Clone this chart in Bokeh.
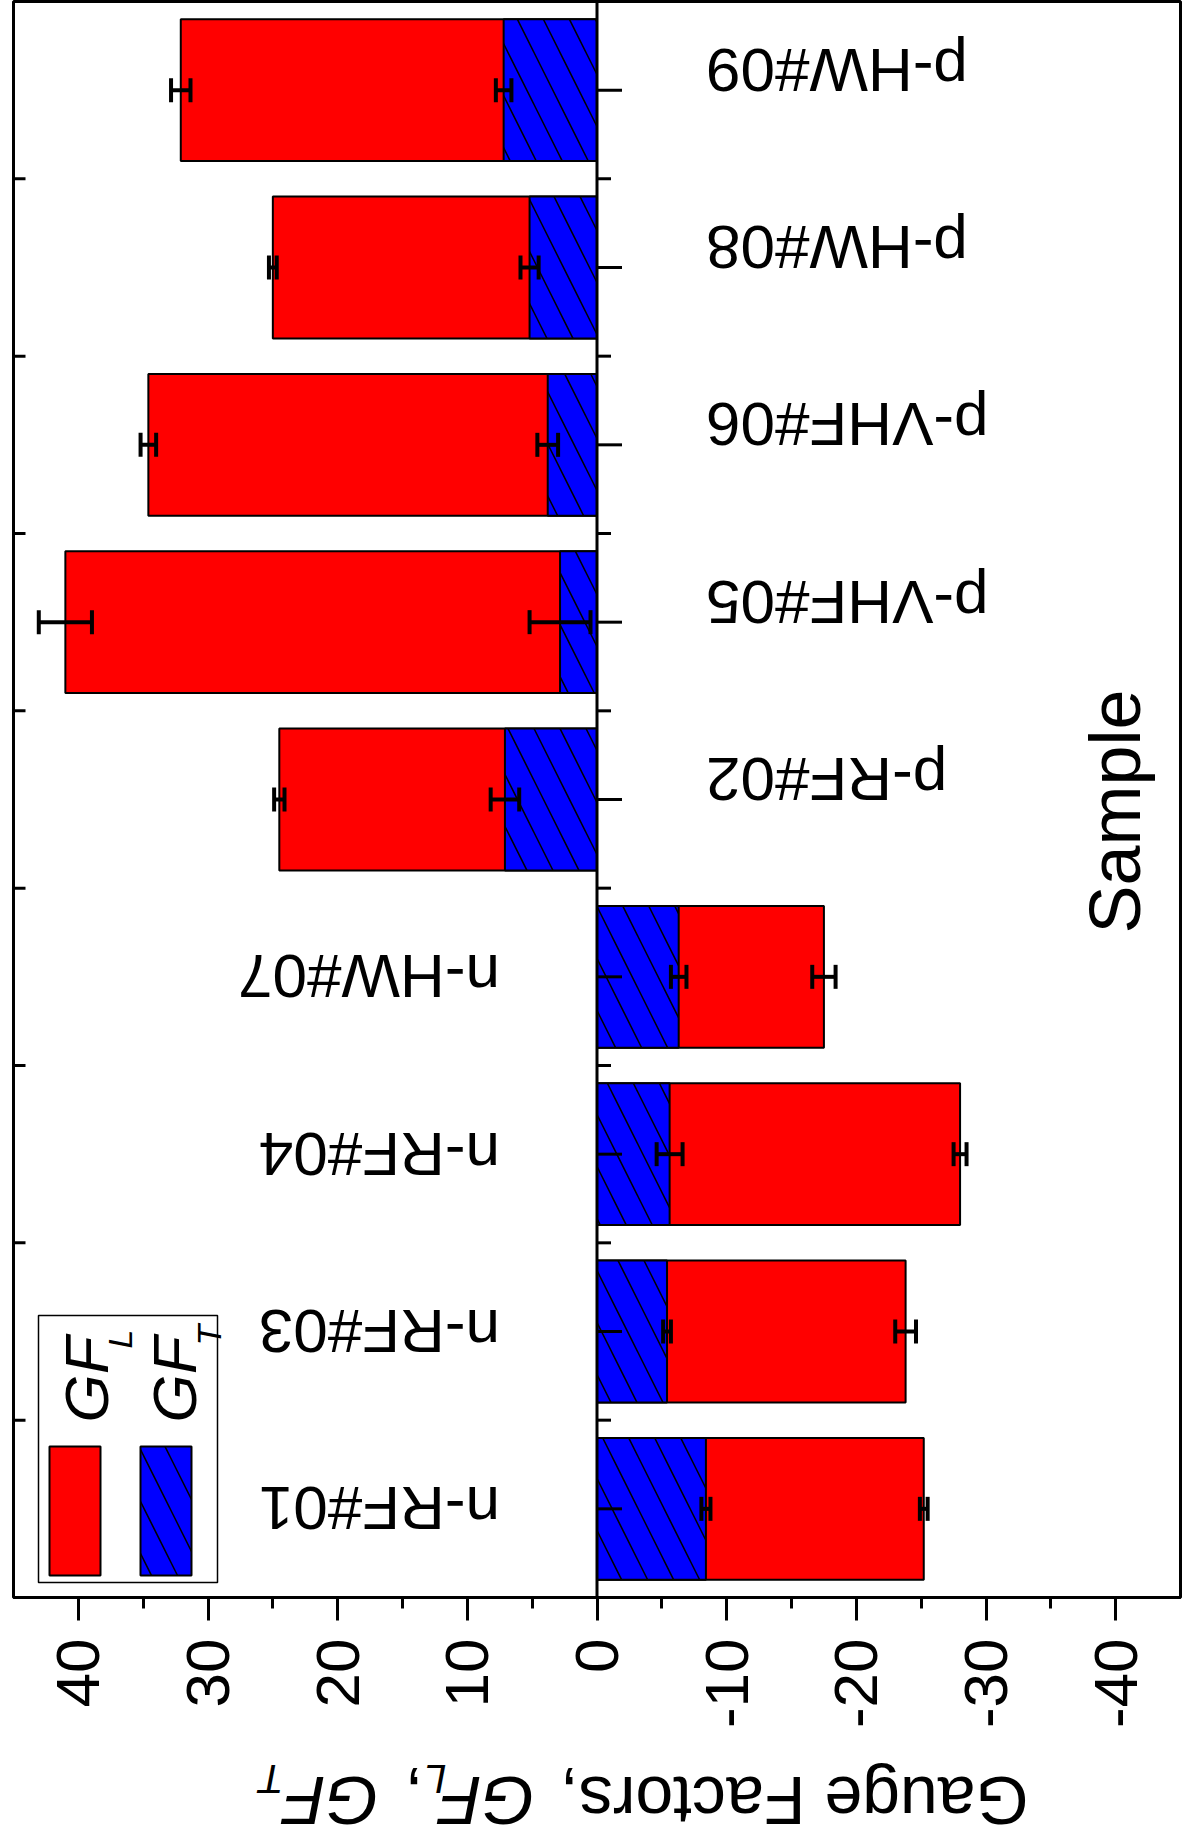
import math
from bokeh.plotting import figure
from bokeh.layouts import column
from bokeh.models import Range1d, FixedTicker, Whisker, TeeHead, ColumnDataSource, Label, BoxAnnotation, Span
from bokeh.core.properties import value
from bokeh.embed import file_html
from bokeh.resources import INLINE

# ---------------- data ----------------
samples = ["n-RF#01", "n-RF#03", "n-RF#04", "n-HW#07",
           "p-RF#02", "p-VHF#05", "p-VHF#06", "p-HW#08", "p-HW#09"]
gf_l = [-25.2, -23.8, -28.0, -17.5, 24.5, 41.0, 34.6, 25.0, 32.1]
gf_l_err = [0.3, 0.8, 0.5, 0.9, 0.4, 2.05, 0.6, 0.3, 0.75]
gf_t = [-8.4, -5.4, -5.6, -6.3, 7.1, 2.85, 3.8, 5.2, 7.2]
gf_t_err = [0.35, 0.3, 1.0, 0.6, 1.1, 2.35, 0.8, 0.7, 0.6]
value_ticks = [-40, -30, -20, -10, 0, 10, 20, 30, 40]

FONT = "Liberation Sans"

# ---------------- layout ----------------
W, H = 1185, 1848
H1 = 1736                      # main figure height, the rest holds the axis title
FR_L, FR_R, FR_T, FR_B = 13, 1180, 1, 1597
X0, X1 = 45, -45
Y0, Y1 = -0.5, len(samples) - 0.5


def xd(px):
    return X0 + (px - FR_L) / (FR_R - FR_L) * (X1 - X0)


def yd(py):
    return Y1 - (py - FR_T) / (FR_B - FR_T) * (Y1 - Y0)


ypos = list(range(len(samples)))
src = ColumnDataSource(dict(
    y=ypos, name=samples, gl=gf_l, gt=gf_t,
    gl_lo=[v - e for v, e in zip(gf_l, gf_l_err)],
    gl_hi=[v + e for v, e in zip(gf_l, gf_l_err)],
    gt_lo=[v - e for v, e in zip(gf_t, gf_t_err)],
    gt_hi=[v + e for v, e in zip(gf_t, gf_t_err)],
))

p = figure(width=W, height=H1, x_range=Range1d(X0, X1), y_range=Range1d(Y0, Y1),
           output_backend="svg", toolbar_location=None, y_axis_location=None,
           min_border_left=FR_L, min_border_right=W - FR_R, min_border_top=FR_T,
           min_border_bottom=H1 - FR_B)
p.xgrid.visible = False
p.ygrid.visible = False
p.outline_line_color = "black"
p.outline_line_width = 3
p.background_fill_color = "white"
p.border_fill_color = "white"

# bottom axis
ax = p.xaxis[0]
ax.ticker = FixedTicker(ticks=value_ticks, minor_ticks=[v + 5 for v in value_ticks[:-1]])
ax.major_label_overrides = {v: str(v) for v in value_ticks}
ax.axis_line_width = 3
ax.major_tick_line_width = 3
ax.minor_tick_line_width = 3
ax.major_tick_out = 23
ax.major_tick_in = 0
ax.minor_tick_out = 11
ax.minor_tick_in = 0
ax.major_label_orientation = math.pi / 2
ax.major_label_text_font = FONT
ax.major_label_text_font_size = "62px"
ax.major_label_text_color = "black"
ax.major_label_standoff = 18

# bars
HATCH = dict(hatch_pattern="\\", hatch_color="black", hatch_scale=52, hatch_weight=1.5)
p.hbar(y="y", left=0, right="gl", height=0.8, source=src,
       fill_color="#ff0000", line_color="black", line_width=2)
p.hbar(y="y", left=0, right="gt", height=0.8, source=src,
       fill_color="#0000ff", line_color="black", line_width=2, **HATCH)

# error bars
for lo, hi in (("gl_lo", "gl_hi"), ("gt_lo", "gt_hi")):
    p.add_layout(Whisker(source=src, base="y", lower=lo, upper=hi, dimension="width",
                         line_width=4, line_color="black", level="annotation",
                         lower_head=TeeHead(size=24, line_width=4, line_color="black"),
                         upper_head=TeeHead(size=24, line_width=4, line_color="black")))

# zero line with ticks
p.add_layout(Span(location=0, dimension="height", line_width=3, line_color="black"))
bounds = [i + 0.5 for i in range(len(samples) - 1)]
p.ray(x=[0] * len(ypos), y=ypos, length=25, length_units="screen", angle=0,
      line_width=3, line_color="black")
p.ray(x=[0] * len(bounds), y=bounds, length=14, length_units="screen", angle=0,
      line_width=3, line_color="black")
# left frame ticks at category boundaries
p.ray(x=[X0] * len(bounds), y=bounds, length=12, length_units="screen", angle=0,
      line_width=3, line_color="black")

# category labels (upside down)
n_idx = [i for i, s in enumerate(samples) if s.startswith("n")]
p_idx = [i for i, s in enumerate(samples) if s.startswith("p")]
p.text(x=[0] * len(n_idx), y=[ypos[i] for i in n_idx], text=[samples[i] for i in n_idx],
       angle=math.pi, x_offset=-97, text_align="left", text_baseline="middle",
       text_font=value(FONT), text_font_size="62px", text_color="black")
p.text(x=[0] * len(p_idx), y=[ypos[i] for i in p_idx], text=[samples[i] for i in p_idx],
       angle=math.pi, x_offset=109, y_offset=-20, text_align="right", text_baseline="middle",
       text_font=value(FONT), text_font_size="62px", text_color="black")

# "Sample" label
p.add_layout(Label(x=xd(1114), y=yd(811), text="Sample", angle=math.pi / 2,
                   text_align="center", text_baseline="middle",
                   text_font=FONT, text_font_size="72px", text_color="black"))


def lab(px, py, txt, size, style="normal", angle=math.pi):
    p.add_layout(Label(x=xd(px), y=yd(py), text=txt, angle=angle,
                       text_align="left", text_baseline="alphabetic",
                       text_font=FONT, text_font_size=size, text_font_style=style,
                       text_color="black"))


# legend (rotated)
p.add_layout(BoxAnnotation(left=xd(38), right=xd(217), top=yd(1315), bottom=yd(1582),
                           fill_color="white", fill_alpha=1, line_color="black",
                           line_width=1.5, line_alpha=1))
p.add_layout(BoxAnnotation(left=xd(49), right=xd(100), top=yd(1446), bottom=yd(1575),
                           fill_color="#ff0000", fill_alpha=1, line_color="black",
                           line_width=2, line_alpha=1))
p.add_layout(BoxAnnotation(left=xd(140), right=xd(191), top=yd(1446), bottom=yd(1575),
                           fill_color="#0000ff", fill_alpha=1, line_color="black",
                           line_width=2, line_alpha=1, **HATCH))
lab(86, 1422, "GF", "62px", "italic", math.pi / 2)
lab(119, 1348, "L", "34px", "italic", math.pi / 2)
lab(174, 1422, "GF", "62px", "italic", math.pi / 2)
lab(208, 1345, "T", "34px", "italic", math.pi / 2)

# ---------------- axis title strip (upside down) ----------------
H2 = H - H1
p2 = figure(width=W, height=H2, x_range=p.x_range, y_range=Range1d(H2, 0),
            output_backend="svg", toolbar_location=None,
            x_axis_location=None, y_axis_location=None,
            min_border_left=FR_L, min_border_right=W - FR_R,
            min_border_top=0, min_border_bottom=0)
p2.xgrid.visible = False
p2.ygrid.visible = False
p2.outline_line_color = None
p2.background_fill_color = "white"
p2.border_fill_color = "white"


def title_piece(px, py, txt, size, style="normal"):
    p2.text(x=[xd(px)], y=[py - H1], text=[txt], angle=math.pi,
            text_align="left", text_baseline="alphabetic",
            text_font=value(FONT), text_font_size=size, text_font_style=style,
            text_color="black")


TB = 1800  # title baseline (screen px)
title_piece(1028, TB, "Gauge Factors,", "68px")
title_piece(534, TB, "GF", "68px", "italic")
title_piece(446, TB - 22, "L", "40px", "italic")
title_piece(423, TB, ",", "68px")
title_piece(378, TB, "GF", "68px", "italic")
title_piece(283, TB - 22, "T", "40px", "italic")

layout = column(p, p2, spacing=0)
open("out.html", "w").write(file_html(layout, INLINE))
